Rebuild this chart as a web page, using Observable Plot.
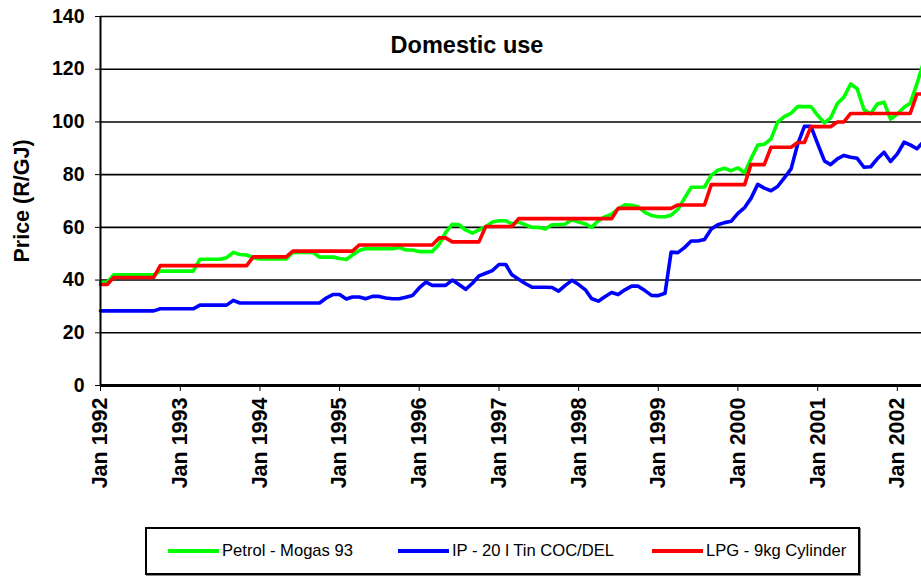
<!DOCTYPE html>
<html>
<head>
<meta charset="utf-8">
<script src="https://cdn.jsdelivr.net/npm/d3@7"></script>
<script src="https://cdn.jsdelivr.net/npm/@observablehq/plot@0.6"></script>
<style>
  body { margin: 0; background: #fff; font-family: "Liberation Sans", Arial, sans-serif; }
  #wrap { position: relative; width: 921px; height: 576px; overflow: hidden; background: #fff; }
  #title { position: absolute; left: 0; width: 934px; top: 32px; text-align: center; font-size: 23.5px; font-weight: bold; color: #000; }
  #legend { position: absolute; left: 145px; top: 527px; width: 715px; height: 48px; border: 2px solid #000; box-sizing: border-box; box-shadow: 1px 1px 0 #888; }
  .item { position: absolute; top: 0; height: 44px; display: flex; align-items: center; font-size: 16.6px; color: #000; }
  .sw { display: inline-block; width: 51px; height: 4px; margin-right: 3px; }
</style>
</head>
<body>
<div id="wrap">
  <div id="chart"></div>
  <div id="title">Domestic use</div>
  <div id="legend"></div>
</div>
<script>
// ---- data (monthly, starting Jan 1992) ----
const startYear = 1992;
const seriesNames = ["Petrol - Mogas 93", "IP - 20 l Tin COC/DEL", "LPG - 9kg Cylinder"];
const seriesColors = ["#00ff00", "#0000ff", "#ff0000"];

const petrol = [
  39.2, 39.2, 42, 42, 42, 42, 42, 42, 42, 43.4, 43.4, 43.4,
  43.4, 43.4, 43.4, 47.9, 47.9, 47.9, 47.9, 48.5, 50.5, 49.7, 49.5, 48.5,
  48, 48, 48, 48, 48, 50.5, 50.5, 50.5, 50.5, 48.7, 48.7, 48.7,
  48.2, 47.8, 49.5, 51.2, 52, 51.9, 51.9, 51.9, 51.9, 52.4, 51.4, 51.4,
  50.8, 50.8, 50.8, 53.5, 58, 61.2, 61, 59, 57.8, 59, 60.2, 62,
  62.5, 62.5, 61.3, 62, 61, 60, 60, 59.4, 61, 61, 61.3, 63,
  62, 61.3, 60, 62.5, 64, 65, 67, 68.6, 68.4, 67.8, 65.7, 64.5,
  64, 64, 64.6, 66.8, 71, 75.2, 75.2, 75.3, 79.7, 81.7, 82.4, 81.5,
  82.6, 80.7, 86, 91.2, 91.5, 93.6, 99.9, 102, 103.3, 105.8, 105.8, 105.8,
  102.5, 99.6, 101.5, 107, 109.4, 114.4, 112.6, 104.6, 103.1, 106.8, 107.5, 101.1,
  103, 105.6, 107.1, 114.5, 122.5
];

const ip = [
  28.3, 28.3, 28.3, 28.3, 28.3, 28.3, 28.3, 28.3, 28.3, 29.1, 29.1, 29.1,
  29.1, 29.1, 29.1, 30.5, 30.5, 30.5, 30.5, 30.5, 32.3, 31.3, 31.3, 31.3,
  31.3, 31.3, 31.3, 31.3, 31.3, 31.3, 31.3, 31.3, 31.3, 31.3, 33.2, 34.5,
  34.5, 32.8, 33.6, 33.6, 32.9, 33.8, 33.8, 33.2, 32.9, 32.9, 33.5, 34.1,
  37, 39.2, 38, 38, 38, 40, 38.3, 36.5, 38.8, 41.6, 42.6, 43.6,
  45.9, 45.9, 42, 40.3, 38.7, 37.3, 37.3, 37.3, 37.2, 35.8, 38, 39.9,
  38.3, 36.3, 33, 32, 33.7, 35.3, 34.5, 36.3, 37.7, 37.7, 36, 34.2,
  34.1, 35, 50.6, 50.4, 52.3, 54.8, 54.8, 55.4, 59.4, 61, 61.8, 62.3,
  65.3, 67.5, 71, 76.3, 74.9, 73.9, 75.5, 78.8, 82.2, 91.5, 98.3, 98.3,
  91.7, 85.2, 83.8, 86, 87.3, 86.6, 86.2, 82.8, 83, 86, 88.5, 85,
  87.9, 92.3, 91.3, 89.8, 92.5
];

const lpg = [
  38.3, 38.3, 41, 41, 41, 41, 41, 41, 41, 45.5, 45.5, 45.5,
  45.5, 45.5, 45.5, 45.5, 45.5, 45.5, 45.5, 45.5, 45.5, 45.5, 45.5, 48.8,
  48.8, 48.8, 48.8, 48.8, 48.8, 51, 51, 51, 51, 51, 51, 51,
  51, 51, 51, 53.3, 53.3, 53.3, 53.3, 53.3, 53.3, 53.3, 53.3, 53.3,
  53.3, 53.3, 53.3, 56, 56, 54.5, 54.5, 54.5, 54.5, 54.5, 60.3, 60.3,
  60.3, 60.3, 60.3, 63.3, 63.3, 63.3, 63.3, 63.3, 63.3, 63.3, 63.3, 63.3,
  63.3, 63.3, 63.3, 63.3, 63.3, 63.3, 67.2, 67.2, 67.2, 67.2, 67.2, 67.2,
  67.2, 67.2, 67.2, 68.5, 68.5, 68.5, 68.5, 68.5, 76.2, 76.2, 76.2, 76.2,
  76.2, 76.2, 83.8, 83.8, 83.8, 90.4, 90.4, 90.4, 90.4, 92.2, 92.2, 98.2,
  98.2, 98.2, 98.2, 100, 100, 103.2, 103.2, 103.2, 103.2, 103.2, 103.2, 103.2,
  103.2, 103.2, 103.2, 110.6, 110.6
];

const yTicks = [0, 20, 40, 60, 80, 100, 120, 140];
const xTickYears = [1992, 1993, 1994, 1995, 1996, 1997, 1998, 1999, 2000, 2001, 2002];
const xTickLabels = ["Jan 1992", "Jan 1993", "Jan 1994", "Jan 1995", "Jan 1996", "Jan 1997", "Jan 1998", "Jan 1999", "Jan 2000", "Jan 2001", "Jan 2002"];
const yLabel = "Price (R/GJ)";

// ---- build table ----
const dateOf = i => new Date(Date.UTC(startYear, i, 1));
const allSeries = [petrol, ip, lpg];
const rows = [];
allSeries.forEach((vals, s) => vals.forEach((v, i) => rows.push({date: dateOf(i), value: v, series: seriesNames[s]})));
const nMonths = petrol.length;
const xTickDates = xTickYears.map(y => new Date(Date.UTC(y, 0, 1)));

const W = 921, H = 520, plotBottom = 385;
const font = "'Liberation Sans', Arial, sans-serif";

const chart = Plot.plot({
  width: W,
  height: H,
  marginLeft: 100,
  marginRight: -2,
  marginTop: 16,
  marginBottom: H - plotBottom,
  style: {fontFamily: font, background: "#fff", color: "#000", overflow: "hidden"},
  x: {type: "utc", domain: [dateOf(0), dateOf(nMonths - 1)]},
  y: {domain: [0, 140]},
  color: {domain: seriesNames, range: seriesColors},
  marks: [
    Plot.ruleY(yTicks, {stroke: "#000", strokeWidth: 1.6}),
    Plot.axisY({ticks: yTicks, tickSize: 5, tickPadding: 11, fontSize: 19.5, fontWeight: "bold", label: null, stroke: "#000"}),
    Plot.axisX({ticks: xTickDates, tickSize: 6, tickPadding: 6, tickRotate: -90, fontSize: 21.5, fontWeight: "bold",
      tickFormat: d => xTickLabels[xTickDates.findIndex(t => +t === +d)], label: null, stroke: "#000"}),
    Plot.text([yLabel], {frameAnchor: "left", dx: -78, rotate: -90, textAnchor: "middle", fontSize: 21.5, fontWeight: "bold", fill: "#000"}),
    Plot.line(rows, {x: "date", y: "value", z: "series", stroke: "series", strokeWidth: 3.6, strokeLinejoin: "round"}),
    Plot.ruleX([dateOf(0)], {stroke: "#000", strokeWidth: 2}),
    Plot.ruleY([0], {stroke: "#000", strokeWidth: 3})
  ]
});
document.getElementById("chart").appendChild(chart);

// ---- legend ----
const legend = document.getElementById("legend");
const legendLeft = [21, 251, 505];
seriesNames.forEach((name, i) => {
  const it = document.createElement("div");
  it.className = "item";
  it.style.left = legendLeft[i] + "px";
  const sw = document.createElement("span");
  sw.className = "sw";
  sw.style.background = seriesColors[i];
  const tx = document.createElement("span");
  tx.textContent = name;
  it.appendChild(sw);
  it.appendChild(tx);
  legend.appendChild(it);
});
</script>
</body>
</html>
